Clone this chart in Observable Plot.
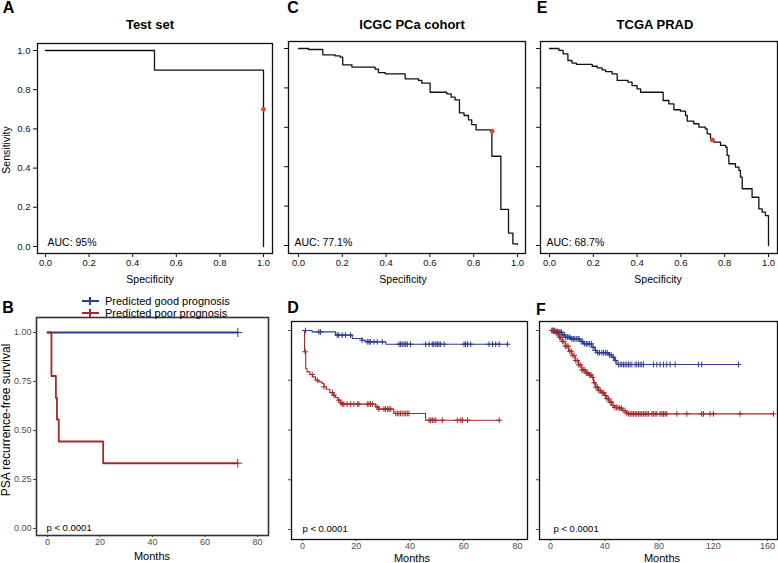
<!DOCTYPE html>
<html>
<head>
<meta charset="utf-8">
<script src="https://cdn.jsdelivr.net/npm/d3@7"></script>
<script src="https://cdn.jsdelivr.net/npm/@observablehq/plot@0.6"></script>
<style>
  html, body { margin: 0; padding: 0; background: #fff; }
  #fig { position: relative; width: 778px; height: 563px; overflow: hidden; font-family: "Liberation Sans", Arial, sans-serif; background: #fff; }
  .lbl { position: absolute; white-space: nowrap; line-height: 1; color: #000; }
</style>
</head>
<body>
<div id="fig"></div>
<script>
// ---------------- DATA ----------------
// ROC curves (specificity, sensitivity) - staircase vertices (step-after)
const rocA_spec = [0, 0.5, 1];
const rocA_sens = [1, 0.9, 0];
const rocA_cut = [1.0, 0.70];
const rocA_auc = "AUC: 95%";

const rocC_spec = [0, 0.046, 0.111, 0.167, 0.190, 0.202, 0.244, 0.350, 0.365, 0.396, 0.487, 0.548, 0.563, 0.601, 0.677, 0.697, 0.715, 0.735, 0.756, 0.776, 0.791, 0.811, 0.883, 0.924, 0.959, 0.979, 1.0];
const rocC_sens = [1.0, 0.995, 0.968, 0.963, 0.956, 0.917, 0.905, 0.895, 0.878, 0.871, 0.846, 0.838, 0.824, 0.778, 0.770, 0.753, 0.739, 0.673, 0.660, 0.638, 0.614, 0.587, 0.453, 0.183, 0.063, 0.008, 0.005];
const rocC_cut = [0.884, 0.580];
const rocC_auc = "AUC: 77.1%";

const rocE_spec = [0, 0.043, 0.062, 0.084, 0.103, 0.123, 0.195, 0.218, 0.240, 0.256, 0.286, 0.309, 0.358, 0.377, 0.400, 0.416, 0.519, 0.545, 0.568, 0.598, 0.621, 0.629, 0.659, 0.682, 0.712, 0.720, 0.735, 0.750, 0.781, 0.804, 0.811, 0.819, 0.849, 0.865, 0.872, 0.880, 0.925, 0.956, 0.971, 0.986, 1.0, 1.0];
const rocE_sens = [1.0, 0.990, 0.973, 0.939, 0.926, 0.919, 0.910, 0.902, 0.892, 0.883, 0.871, 0.838, 0.829, 0.812, 0.795, 0.778, 0.736, 0.719, 0.689, 0.682, 0.660, 0.631, 0.618, 0.601, 0.592, 0.567, 0.541, 0.525, 0.508, 0.499, 0.457, 0.415, 0.398, 0.381, 0.347, 0.288, 0.245, 0.186, 0.169, 0.152, 0.144, 0];
const rocE_cut = [0.743, 0.536];
const rocE_auc = "AUC: 68.7%";

const rocTicks = [0, 0.2, 0.4, 0.6, 0.8, 1.0];

// Kaplan-Meier curves (months, survival)
const groups = ["Predicted good prognosis", "Predicted poor prognosis"];
const groupColors = ["#2f3b8c", "#a3282a"];

const kmB_good_t = [0, 72.5];
const kmB_good_s = [1, 1];
const kmB_good_c = [72.5];
const kmB_poor_t = [0, 1.5, 3.2, 3.6, 4.3, 21.2, 72.5];
const kmB_poor_s = [1, 0.778, 0.667, 0.556, 0.444, 0.333, 0.333];
const kmB_poor_c = [72.5];

const kmD_good_t = [0, 3.6, 12.3, 18.5, 22.2, 23.5, 31.0, 76.3];
const kmD_good_s = [1, 0.993, 0.977, 0.960, 0.951, 0.943, 0.931, 0.931];
const kmD_good_c = [1.1, 6.1, 6.7, 12.9, 13.5, 14.8, 16.0, 17.9, 22.2, 24.1, 24.7, 25.3, 26.6, 27.8, 29.7, 35.9, 36.5, 37.1, 37.8, 38.4, 39.0, 40.2, 45.8, 47.1, 48.3, 48.9, 49.6, 50.2, 50.8, 51.4, 52.7, 60.1, 60.7, 61.4, 62.6, 69.4, 70.7, 71.9, 73.2, 76.3];
const kmD_poor_t = [0, 0.75, 1.2, 1.7, 2.7, 3.7, 4.8, 6.1, 7.3, 8.0, 8.9, 10.2, 11.4, 12.3, 13.2, 14.2, 14.8, 27.2, 28.4, 34.0, 45.8, 73.2];
const kmD_poor_s = [1, 0.893, 0.809, 0.792, 0.779, 0.767, 0.750, 0.742, 0.734, 0.717, 0.705, 0.688, 0.675, 0.663, 0.650, 0.638, 0.630, 0.616, 0.605, 0.583, 0.549, 0.549];
const kmD_poor_c = [1.0, 3.6, 5.5, 8.0, 11.1, 11.7, 13.5, 14.2, 14.8, 15.4, 16.6, 17.9, 19.1, 20.4, 21.0, 24.1, 24.7, 25.3, 26.0, 27.8, 28.4, 30.3, 30.9, 31.6, 32.2, 32.8, 34.7, 35.3, 35.9, 36.5, 37.1, 37.8, 38.4, 39.0, 39.6, 47.1, 47.7, 48.3, 48.9, 49.6, 52.0, 57.6, 58.9, 59.5, 61.4, 73.2];

const kmF_good_t = [0, 3.4, 5.9, 8.4, 10.8, 14.5, 21.9, 24.3, 30.5, 32.9, 34.2, 42.8, 45.2, 47.2, 48.9, 138.6];
const kmF_good_s = [1, 0.995, 0.992, 0.978, 0.966, 0.958, 0.945, 0.933, 0.916, 0.900, 0.888, 0.878, 0.866, 0.849, 0.829, 0.829];
const kmF_good_c = [1.2, 2.1, 3.0, 4.2, 5.1, 6.3, 7.0, 8.1, 9.2, 10.4, 11.3, 12.5, 13.6, 14.4, 15.7, 16.8, 17.9, 19.0, 20.2, 21.1, 22.6, 23.7, 25.0, 26.4, 27.5, 28.8, 30.1, 31.4, 33.0, 34.8, 36.1, 37.9, 39.2, 40.6, 41.8, 43.5, 44.7, 46.3, 48.0, 50.1, 51.4, 52.6, 53.8, 55.0, 56.3, 57.5, 58.7, 60.0, 62.4, 63.6, 64.9, 66.1, 67.3, 68.6, 75.9, 78.4, 80.8, 83.3, 85.7, 88.2, 91.9, 109.1, 111.5, 138.6];
const kmF_poor_t = [0, 1.5, 3.4, 5.9, 8.4, 10.8, 13.3, 15.7, 18.2, 20.6, 23.1, 25.6, 28.0, 30.0, 31.7, 33.4, 35.4, 37.8, 39.8, 41.5, 43.2, 45.2, 47.2, 50.1, 52.6, 55.5, 57.5, 164.4];
const kmF_poor_s = [1, 0.997, 0.988, 0.966, 0.945, 0.921, 0.896, 0.874, 0.849, 0.827, 0.802, 0.786, 0.777, 0.765, 0.737, 0.715, 0.698, 0.687, 0.673, 0.657, 0.640, 0.623, 0.613, 0.610, 0.598, 0.586, 0.581, 0.581];
const kmF_poor_c = [1.0, 2.2, 3.1, 4.3, 5.4, 6.6, 7.5, 8.7, 9.8, 11.0, 12.1, 13.0, 14.2, 15.3, 16.5, 17.4, 18.6, 19.7, 20.9, 22.0, 23.2, 24.1, 25.3, 26.5, 27.6, 28.8, 29.9, 31.1, 32.3, 33.5, 34.6, 35.8, 37.0, 38.1, 39.3, 40.5, 41.6, 42.8, 44.0, 45.1, 46.3, 47.5, 48.6, 49.8, 51.0, 52.3, 53.5, 54.9, 56.2, 57.5, 58.7, 60.0, 61.2, 62.4, 63.6, 64.9, 66.1, 67.3, 68.6, 69.8, 71.0, 72.2, 74.7, 75.9, 77.1, 78.4, 80.8, 82.1, 83.3, 84.5, 85.7, 93.1, 100.5, 111.5, 112.8, 117.7, 120.1, 139.8, 164.4];

const kmTicks80 = [0, 20, 40, 60, 80];
const kmTicks160 = [0, 40, 80, 120, 160];
const survTicks = [0, 0.25, 0.5, 0.75, 1.0];
const pText = "p < 0.0001";

// ---------------- HELPERS ----------------
const fig = document.getElementById("fig");
const FONT = "'Liberation Sans', Arial, Helvetica, sans-serif";

function label(text, x, y, {size = 11, weight = "normal", rotate = 0, color = "#000", anchor = "middle"} = {}) {
  const d = document.createElement("div");
  d.className = "lbl";
  d.textContent = text;
  d.style.left = x + "px";
  d.style.top = y + "px";
  d.style.fontSize = size + "px";
  d.style.fontWeight = weight;
  d.style.color = color;
  const tx = anchor === "middle" ? "-50%" : "0";
  d.style.transform = rotate ? `translate(-50%, -50%) rotate(${rotate}deg)` : `translate(${tx}, -50%)`;
  fig.appendChild(d);
}

function place(box, frame, opts) {
  const [bx, by, bw, bh] = box;
  const [fl, ft, fr, fb] = frame;
  const svg = Plot.plot({
    width: bw, height: bh,
    marginLeft: fl - bx, marginRight: bx + bw - fr,
    marginTop: ft - by, marginBottom: by + bh - fb,
    x: opts.x, y: opts.y,
    style: Object.assign({background: "transparent", fontFamily: FONT, overflow: "visible", maxWidth: "none"}, opts.style || {}),
    marks: opts.marks
  });
  svg.style.position = "absolute";
  svg.style.left = bx + "px";
  svg.style.top = by + "px";
  fig.appendChild(svg);
}

const zip = (xs, ys) => xs.map((x, i) => ({x, y: ys[i]}));
function survAt(ts, ss, t) { let v = ss[0]; for (let i = 0; i < ts.length; i++) if (ts[i] <= t) v = ss[i]; return v; }
const censor = (cs, ts, ss) => cs.map(t => ({x: t, y: survAt(ts, ss, t)}));

// ---------------- ROC PANELS ----------------
function rocPanel(box, frame, ins, spec, sens, cut, auc, showLabels, aucDx) {
  place(box, frame, {
    x: {domain: [0, 1], insetLeft: ins[0], insetRight: ins[1], ticks: rocTicks, tickFormat: d3.format(".1f"), tickSize: 4, tickPadding: 2, label: null},
    y: {domain: [0, 1], insetTop: ins[2], insetBottom: ins[3], ticks: rocTicks, tickFormat: showLabels ? d3.format(".1f") : () => "", tickSize: 4, tickPadding: 3, label: null},
    style: {fontSize: "9.5px", color: "#111"},
    marks: [
      Plot.frame({stroke: "#111", strokeWidth: 1.3}),
      Plot.line(zip(spec, sens), {x: "x", y: "y", curve: "step-after", stroke: "#111", strokeWidth: 1.3}),
      Plot.dot([cut], {x: d => d[0], y: d => d[1], r: 2.4, fill: "#e5452f", stroke: "none"}),
      Plot.text([auc], {frameAnchor: "bottom-left", textAnchor: "start", lineAnchor: "middle", dx: aucDx, dy: -11, fontSize: 10.5, fill: "#000"})
    ]
  });
}

rocPanel([0, 0, 280, 292], [37, 43, 272, 253], [8, 9, 7, 7], rocA_spec, rocA_sens, rocA_cut, rocA_auc, true, 10);
rocPanel([280, 0, 250, 292], [288, 41, 525, 253], [10, 8, 7, 8], rocC_spec, rocC_sens, rocC_cut, rocC_auc, false, 6);
rocPanel([530, 0, 248, 292], [540, 41, 777, 253], [9, 9, 7, 8], rocE_spec, rocE_sens, rocE_cut, rocE_auc, false, 6);

// ---------------- KM PANELS ----------------
function kmPanel(box, frame, ins, xmax, xticks, good, poor, showLabels, opts) {
  const [gt, gs, gc] = good;
  const [pt, ps, pc] = poor;
  place(box, frame, {
    x: {domain: [0, xmax], insetLeft: ins[0], insetRight: ins[1], ticks: xticks, tickSize: 2, tickPadding: 1, label: null},
    y: {domain: [0, 1], insetTop: ins[2], insetBottom: ins[3], ticks: survTicks, tickFormat: showLabels ? d3.format(".2f") : () => "", tickSize: 3, tickPadding: 2, label: null},
    style: {fontSize: "9px", color: "#4d4d4d"},
    marks: [
      Plot.frame({stroke: opts.frameColor, strokeWidth: opts.frameWidth}),
      Plot.line(zip(gt, gs), {x: "x", y: "y", curve: "step-after", stroke: groupColors[0], strokeWidth: opts.lw}),
      Plot.line(zip(pt, ps), {x: "x", y: "y", curve: "step-after", stroke: groupColors[1], strokeWidth: opts.lw}),
      Plot.dot(censor(gc, gt, gs), {x: "x", y: "y", symbol: "plus", r: opts.r, stroke: groupColors[0], strokeWidth: 1}),
      Plot.dot(censor(pc, pt, ps), {x: "x", y: "y", symbol: "plus", r: opts.r, stroke: groupColors[1], strokeWidth: 1}),
      Plot.text([pText], {frameAnchor: "bottom-left", textAnchor: "start", lineAnchor: "middle", dx: opts.pdx, dy: opts.pdy, fontSize: 9.5, fill: "#000"})
    ]
  });
}

kmPanel([0, 292, 280, 271], [36, 317, 268, 535], [11, 11, 15, 7], 80, kmTicks80,
  [kmB_good_t, kmB_good_s, kmB_good_c], [kmB_poor_t, kmB_poor_s, kmB_poor_c], true,
  {frameColor: "#333", frameWidth: 1.6, lw: 1.8, r: 3, pdx: 10, pdy: -8});
kmPanel([280, 292, 250, 271], [291, 321, 527, 539], [11, 10, 9, 10], 80, kmTicks80,
  [kmD_good_t, kmD_good_s, kmD_good_c], [kmD_poor_t, kmD_poor_s, kmD_poor_c], false,
  {frameColor: "#111", frameWidth: 1.3, lw: 1.1, r: 2, pdx: 11, pdy: -11});
kmPanel([530, 292, 248, 271], [539, 321, 777, 539], [11, 10, 9, 10], 160, kmTicks160,
  [kmF_good_t, kmF_good_s, kmF_good_c], [kmF_poor_t, kmF_poor_s, kmF_poor_c], false,
  {frameColor: "#111", frameWidth: 1.3, lw: 1.1, r: 2, pdx: 14, pdy: -11});

// ---------------- TEXT ----------------
label("A", 8.5, 8, {size: 16, weight: "bold"});
label("C", 293, 8, {size: 16, weight: "bold"});
label("E", 542, 8, {size: 16, weight: "bold"});
label("B", 8, 308, {size: 16, weight: "bold"});
label("D", 293, 308, {size: 16, weight: "bold"});
label("F", 541, 310, {size: 16, weight: "bold"});

label("Test set", 150, 24, {size: 13, weight: "bold"});
label("ICGC PCa cohort", 412, 24, {size: 13, weight: "bold"});
label("TCGA PRAD", 655, 24, {size: 13, weight: "bold"});

label("Sensitivity", 6, 150, {size: 10.5, rotate: -90});
label("Specificity", 150, 279, {size: 10.5});
label("Specificity", 403, 279, {size: 10.5});
label("Specificity", 658, 279, {size: 10.5});

label("PSA recurrence-free survival", 6, 420, {size: 12, rotate: -90});
label("Months", 152, 555.5, {size: 11});
label("Months", 412, 557.5, {size: 11});
label("Months", 662, 557.5, {size: 11});

// legend
function legendItem(i, y) {
  const sw = document.createElement("div");
  sw.style.cssText = `position:absolute;left:82px;top:${y - 1}px;width:17px;height:2px;background:${groupColors[i]};`;
  const v = document.createElement("div");
  v.style.cssText = `position:absolute;left:7px;top:-3px;width:2px;height:8px;background:${groupColors[i]};`;
  sw.appendChild(v);
  fig.appendChild(sw);
  label(groups[i], 105, y, {size: 11, anchor: "start"});
}
legendItem(0, 301);
legendItem(1, 312.5);
</script>
</body>
</html>
